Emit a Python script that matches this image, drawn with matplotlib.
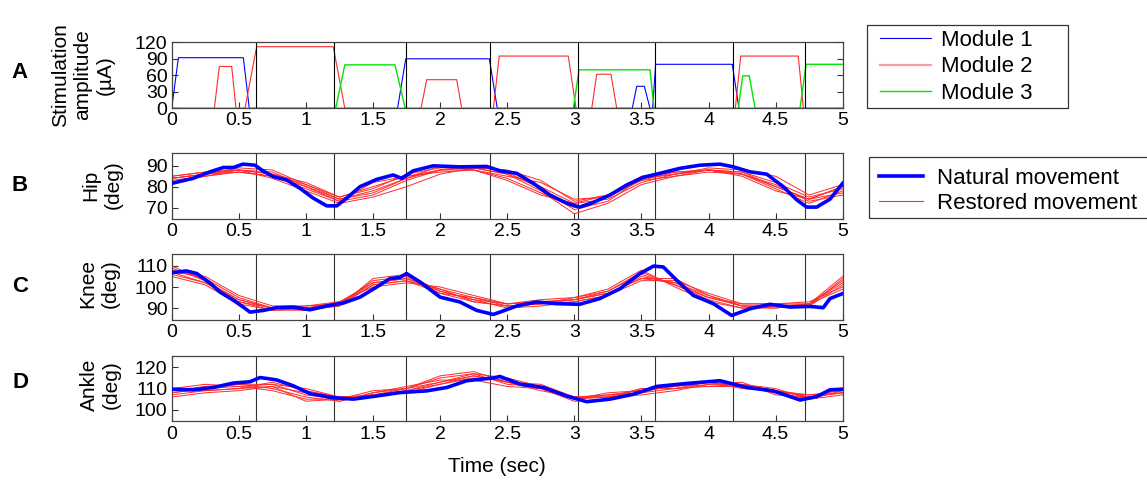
import numpy as np
import matplotlib
matplotlib.use("Agg")
import matplotlib.pyplot as plt
from matplotlib.lines import Line2D
from matplotlib.patches import Rectangle
from matplotlib.ticker import FuncFormatter

plt.rcParams['font.family'] = ['Liberation Sans', 'DejaVu Sans']

# ---------------- data ----------------
phase_bounds = [0.628, 1.212, 1.744, 2.372, 3.03, 3.603, 4.18, 4.72]

# Panel A: stimulation amplitude breakpoints (sec, µA)
m1_t = [0, 0.05, 0.534, 0.578, 1.683, 1.744, 2.367, 2.426, 3.432, 3.465, 3.522, 3.564, 3.584, 3.606, 4.177, 4.227, 5]
m1_a = [0, 92, 92, 0, 0, 90, 90, 0, 0, 40, 40, 0, 0, 80, 80, 0, 0]
m2_t = [0, 0.318, 0.355, 0.447, 0.479, 0.546, 0.633, 1.204, 1.29, 1.858, 1.9, 2.124, 2.161, 2.397, 2.441,
        2.955, 3.013, 3.13, 3.167, 3.273, 3.316, 4.2, 4.24, 4.669, 4.707, 5]
m2_a = [0, 0, 76, 76, 0, 0, 112, 112, 0, 0, 52, 52, 0, 0, 95, 95, 0, 0, 62, 62, 0, 0, 95, 95, 0, 0]
m3_t = [0, 1.222, 1.29, 1.664, 1.74, 2.993, 3.035, 3.564, 3.594, 4.222, 4.255, 4.304, 4.347, 4.682, 4.727, 5]
m3_a = [0, 0, 79, 79, 0, 0, 70, 70, 0, 0, 59, 59, 0, 0, 80, 80]

# Natural movement (blue)
hip_t = [0, 0.16, 0.285, 0.385, 0.46, 0.53, 0.62, 0.68, 0.757, 0.857, 0.956, 1.055, 1.155, 1.23, 1.304,
         1.403, 1.528, 1.65, 1.714, 1.8, 1.95, 2.148, 2.347, 2.446, 2.57, 2.695, 2.819, 2.943, 3.04,
         3.14, 3.266, 3.39, 3.514, 3.638, 3.788, 3.937, 4.086, 4.185, 4.31, 4.434, 4.557, 4.657,
         4.732, 4.806, 4.905, 5.0]
hip_v = [81.6, 84, 87.1, 89.2, 89.2, 90.8, 90.3, 87.6, 84.8, 83.2, 79.2, 74.5, 70.8, 70.8, 74.5,
         80, 83.5, 85.6, 84, 87.6, 90, 89.5, 89.7, 87.6, 86.4, 81.6, 76, 72.1, 70.2,
         72.4, 76, 80.8, 84.5, 86.4, 88.8, 90.3, 90.8, 89.5, 87.1, 86, 80, 73.7,
         70.2, 70.2, 74, 81.6]
knee_t = [0, 0.11, 0.186, 0.285, 0.36, 0.46, 0.533, 0.583, 0.683, 0.78, 0.906, 1.03, 1.155, 1.279,
          1.403, 1.528, 1.627, 1.7, 1.75, 1.85, 2.0, 2.148, 2.273, 2.396, 2.446, 2.57, 2.72, 2.869,
          3.04, 3.19, 3.34, 3.49, 3.59, 3.663, 3.763, 3.887, 4.036, 4.173, 4.31, 4.458, 4.607,
          4.756, 4.855, 4.905, 5.0]
knee_v = [106.8, 107.6, 106.4, 101.9, 97.6, 93.7, 90.5, 88.1, 88.9, 90.2, 90.5, 89.2, 91, 92.4,
          95.2, 100, 104, 104.5, 106.4, 102.4, 95.2, 92.9, 88.9, 87, 88.1, 91, 92.9, 92.1,
          91.8, 94.5, 99.2, 106.4, 109.9, 109.5, 103.2, 96, 92.1, 86.5, 89.7, 91.8, 90.5,
          90.8, 90.2, 94.5, 96.9]
ankle_t = [0, 0.16, 0.31, 0.46, 0.583, 0.658, 0.78, 0.906, 1.03, 1.204, 1.353, 1.528, 1.7, 1.9,
           2.05, 2.198, 2.396, 2.446, 2.595, 2.769, 2.943, 3.092, 3.266, 3.44, 3.614, 3.838,
           4.086, 4.285, 4.483, 4.682, 4.806, 4.905, 5.0]
ankle_v = [109.7, 109.4, 110.5, 112.6, 113.2, 115.2, 114.1, 111.3, 107.6, 105.7, 105, 106.5, 108.1, 108.9,
           110.5, 113.7, 115, 115.7, 112.1, 110.5, 106.5, 103.8, 105, 107.3, 111, 112.4,
           113.7, 110.5, 108.9, 104.6, 106.2, 109.4, 109.7]

# Restored movement (red), trials sampled every 0.25 s
trial_t = [0, 0.25, 0.5, 0.75, 1.0, 1.25, 1.5, 1.75, 2.0, 2.25, 2.5, 2.75, 3.0, 3.25, 3.5, 3.75, 4.0, 4.25, 4.5, 4.75, 5.0]
hip_trials = [
    [84, 86, 88, 87, 80, 74, 77, 84, 88, 89, 86, 80, 72, 74, 82, 86, 88, 87, 82, 75, 79],
    [85, 87, 88, 86, 82, 75, 80, 85, 87, 88, 85, 82, 74, 75, 83, 85, 87, 86, 80, 74, 77],
    [83, 85, 87, 85, 79, 73, 76, 83, 88, 90, 87, 79, 69, 73, 84, 86, 89, 88, 85, 76, 81],
    [84, 86, 89, 88, 81, 75, 79, 86, 89, 89, 88, 83, 73, 76, 83, 87, 88, 86, 81, 73, 76],
    [82, 85, 88, 84, 78, 72, 75, 80, 86, 89, 86, 78, 67, 72, 81, 85, 88, 85, 78, 74, 80],
    [85, 87, 88, 86, 81, 74, 78, 84, 90, 88, 84, 77, 70, 75, 84, 86, 88, 86, 79, 72, 78],
    [84, 86, 87, 85, 80, 73, 82, 85, 88, 88, 83, 76, 72, 76, 85, 87, 88, 87, 80, 74, 80],
]
knee_trials = [
    [108, 104, 95, 90, 90, 92, 102, 104, 98, 94, 92, 93, 94, 97, 104, 102, 95, 91, 91, 92, 103],
    [110, 103, 93, 89, 90, 91, 101, 103, 99, 95, 91, 92, 95, 98, 106, 101, 94, 90, 91, 91, 104],
    [106, 102, 94, 90, 89, 92, 103, 105, 97, 93, 91, 92, 93, 96, 103, 103, 97, 92, 92, 93, 100],
    [107, 105, 96, 91, 91, 93, 100, 102, 100, 96, 92, 94, 95, 99, 108, 100, 93, 90, 90, 92, 105],
    [105, 101, 92, 89, 89, 91, 104, 106, 98, 94, 90, 91, 93, 96, 105, 102, 96, 91, 91, 91, 101],
    [109, 103, 94, 90, 91, 92, 101, 103, 97, 95, 92, 93, 94, 98, 107, 101, 95, 92, 92, 92, 102],
    [107, 102, 93, 90, 90, 93, 102, 104, 99, 93, 91, 92, 94, 97, 104, 104, 96, 91, 90, 92, 99],
]
ankle_trials = [
    [108, 110, 111, 112, 107, 105, 107, 109, 113, 116, 113, 110, 106, 106, 108, 110, 112, 112, 109, 106, 108],
    [109, 111, 112, 110, 106, 104, 108, 110, 115, 117, 112, 111, 105, 107, 109, 111, 113, 111, 108, 107, 109],
    [107, 109, 110, 113, 109, 106, 106, 109, 112, 115, 114, 110, 104, 105, 110, 110, 111, 112, 110, 105, 107],
    [110, 112, 111, 109, 105, 105, 107, 110, 116, 118, 113, 109, 106, 106, 107, 109, 112, 113, 107, 106, 110],
    [106, 108, 109, 111, 108, 104, 108, 111, 114, 114, 111, 110, 105, 108, 109, 111, 113, 110, 109, 107, 108],
    [108, 110, 112, 112, 110, 106, 107, 108, 112, 116, 113, 112, 106, 107, 108, 112, 111, 111, 108, 105, 109],
    [109, 109, 110, 111, 104, 105, 109, 110, 113, 117, 115, 111, 105, 106, 110, 110, 113, 112, 109, 106, 108],
]

xticks = [0, 0.5, 1, 1.5, 2, 2.5, 3, 3.5, 4, 4.5, 5]

# ---------------- figure ----------------
W, H = 1147, 480
fig = plt.figure(figsize=(W / 100, H / 100), dpi=100)

def ax_at(left, top, right, bottom):
    return fig.add_axes([left / W, 1 - bottom / H, (right - left) / W, (bottom - top) / H])

axA = ax_at(171.7, 42.3, 842.7, 108.3)
axB = ax_at(171.7, 153.3, 842.7, 219.0)
axC = ax_at(171.7, 254.3, 842.7, 319.7)
axD = ax_at(171.7, 355.7, 842.7, 421.4)

BLUE = '#0000ff'
RED = '#ff2a2a'
GREEN = '#00e600'
fmt = FuncFormatter(lambda v, p: '%g' % v)

for ax in (axA, axB, axC, axD):
    ax.set_xlim(0, 5)
    ax.set_xticks(xticks)
    ax.xaxis.set_major_formatter(fmt)
    ax.tick_params(direction='in', length=4, width=0.8, labelsize=14, pad=3, colors='#333333',
                   labelcolor='black')
    for s in ax.spines.values():
        s.set_color('#444444')
        s.set_linewidth(0.9)

# Panel A
axA.plot(m1_t, m1_a, color=BLUE, lw=0.8)
axA.plot(m2_t, m2_a, color=RED, lw=0.8)
axA.plot(m3_t, m3_a, color=GREEN, lw=1.0)
for b in phase_bounds:
    axA.axvline(b, color='black', lw=0.8)
axA.set_ylim(0, 120)
axA.set_yticks([0, 30, 60, 90, 120])
axA.tick_params(axis='y', right=True)

# Panels B-D
panels = [
    (axB, hip_t, hip_v, hip_trials, (64.5, 96), [70, 80, 90]),
    (axC, knee_t, knee_v, knee_trials, (84.5, 115.5), [90, 100, 110]),
    (axD, ankle_t, ankle_v, ankle_trials, (94.5, 125.5), [100, 110, 120]),
]
for ax, tt, vv, trials, yl, yt in panels:
    for b in phase_bounds:
        ax.axvline(b, color='#333333', lw=0.8, zorder=1)
    for tr in trials:
        ax.plot(trial_t, tr, color=RED, lw=0.7, zorder=2)
    ax.plot(tt, vv, color=BLUE, lw=2.6, zorder=3)
    ax.set_ylim(*yl)
    ax.set_yticks(yt)

# Labels
fs_lab = 15
lab_kw = dict(rotation=90, ha='center', va='center', fontsize=fs_lab, multialignment='center',
              linespacing=1.2)
fig.text(83 / W, 1 - 75 / H, 'Stimulation\namplitude\n(µA)', **lab_kw)
fig.text(102 / W, 1 - 185 / H, 'Hip\n(deg)', **lab_kw)
fig.text(99 / W, 1 - 284 / H, 'Knee\n(deg)', **lab_kw)
fig.text(100 / W, 1 - 385 / H, 'Ankle\n(deg)', **lab_kw)
for letter, y in zip('ABCD', [73, 185, 287, 382]):
    fig.text(20 / W, 1 - y / H, letter, fontsize=16, fontweight='bold', ha='center', va='center')
fig.text(497 / W, 1 - 466 / H, 'Time (sec)', fontsize=15, ha='center', va='center')

# Legends (frames drawn as rectangles in figure pixels)
fig.add_artist(Rectangle((867 / W, 1 - 108 / H), 201 / W, 83 / H, transform=fig.transFigure,
                         facecolor='white', edgecolor='#333333', lw=0.9, zorder=5))
fig.add_artist(Rectangle((869 / W, 1 - 218 / H), 300 / W, 61 / H, transform=fig.transFigure,
                         facecolor='white', edgecolor='#333333', lw=0.9, zorder=5))

h1 = [Line2D([], [], color=BLUE, lw=0.8), Line2D([], [], color='#f5a0a0', lw=1.6),
      Line2D([], [], color=GREEN, lw=1.0)]
leg1 = fig.legend(h1, ['Module 1', 'Module 2', 'Module 3'], loc='upper left',
                  bbox_to_anchor=(880 / W, 1 - 30 / H), fontsize=16, frameon=False,
                  borderaxespad=0, borderpad=0, handlelength=2.3,
                  handletextpad=0.45, labelspacing=0.24)
leg1.set_zorder(6)
h2 = [Line2D([], [], color=BLUE, lw=2.6), Line2D([], [], color=RED, lw=0.8)]
leg2 = fig.legend(h2, ['Natural movement', 'Restored movement'], loc='upper left',
                  bbox_to_anchor=(879 / W, 1 - 168 / H), fontsize=16, frameon=False,
                  borderaxespad=0, borderpad=0, handlelength=2.0,
                  handletextpad=0.6, labelspacing=0.18)
leg2.set_zorder(6)

fig.savefig('out.png', dpi=100)
